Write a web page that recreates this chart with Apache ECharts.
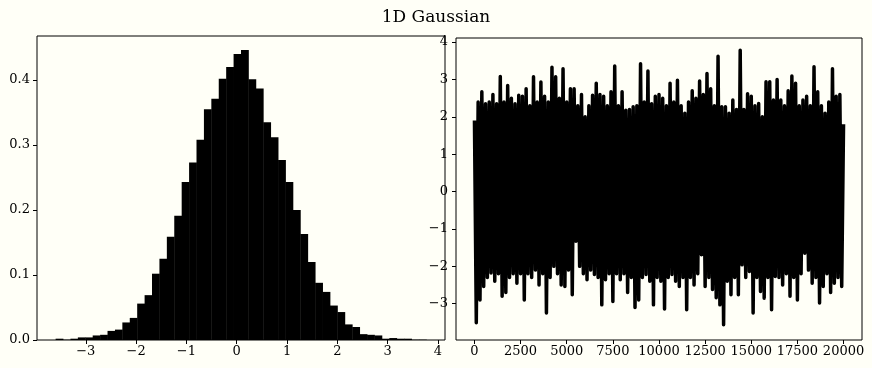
<!DOCTYPE html>
<html>
<head>
<meta charset="utf-8">
<title>1D Gaussian</title>
<script src="https://cdn.jsdelivr.net/npm/echarts@6/dist/echarts.min.js"></script>
<style>
  html, body { margin: 0; padding: 0; background: #fffff7; }
  #chart { width: 872px; height: 368px; }
</style>
</head>
<body>
<div id="chart"></div>
<script>
// histogram (density), 50 bins
const binStart = -3.60;
const binWidth = 0.1474;
const density = [
  0.002, 0.0005, 0.002, 0.004, 0.004, 0.007, 0.008, 0.014, 0.016, 0.027,
  0.034, 0.056, 0.069, 0.102, 0.125, 0.159, 0.191, 0.243, 0.273, 0.308,
  0.355, 0.371, 0.402, 0.420, 0.440, 0.446, 0.401, 0.387, 0.335, 0.312,
  0.277, 0.243, 0.200, 0.163, 0.120, 0.088, 0.074, 0.053, 0.043, 0.024,
  0.020, 0.009, 0.008, 0.007, 0.002, 0.003, 0.002, 0.002, 0.0005, 0.0005
];
const histXTicks = [-3, -2, -1, 0, 1, 2, 3, 4];
const histYTicks = [0, 0.1, 0.2, 0.3, 0.4];

// trace: upper peaks at 0,200,...,20000 and lower peaks at 100,300,...,19900
const traceStep = 200;
const tracePeaks = [
  1.9, 2.4, 2.67, 2.35, 2.4, 2.6, 2.35, 3.08, 2.4, 2.84,
  2.5, 2.35, 2.58, 2.55, 2.75, 2.3, 3.07, 2.4, 2.93, 2.55,
  2.4, 3.33, 3.07, 2.5, 3.29, 2.4, 2.75, 2.75, 2.3, 2.6,
  2.0, 2.3, 2.58, 2.9, 2.6, 2.55, 2.3, 2.67, 3.36, 2.3,
  2.67, 2.18, 2.2, 2.27, 2.3, 3.42, 2.4, 3.23, 2.35, 2.55,
  2.6, 2.5, 2.3, 2.9, 2.4, 2.98, 2.3, 2.1, 2.4, 2.7,
  2.5, 2.96, 2.6, 3.16, 2.75, 2.3, 3.62, 2.27, 2.27, 2.1,
  2.45, 2.2, 3.78, 2.2, 2.62, 2.55, 2.3, 2.36, 2.0, 2.94,
  2.94, 2.45, 3.0, 2.45, 2.3, 2.7, 3.09, 2.9, 2.3, 2.45,
  2.55, 2.3, 3.34, 2.67, 2.3, 2.1, 2.4, 3.29, 2.55, 2.6,
  1.8
];
const traceTroughs = [
  -3.51, -2.9, -2.54, -2.3, -2.18, -2.4, -2.2, -2.8, -2.7, -2.3,
  -2.2, -2.45, -2.2, -2.9, -2.2, -2.3, -2.1, -2.5, -2.2, -3.25,
  -2.3, -2.0, -2.2, -2.5, -2.54, -2.1, -2.76, -1.33, -2.0, -2.2,
  -2.36, -2.1, -2.22, -2.3, -3.03, -2.36, -2.2, -2.94, -2.2, -2.36,
  -2.2, -2.7, -2.3, -3.1, -2.9, -2.3, -2.22, -2.4, -3.03, -2.3,
  -2.4, -3.14, -2.3, -2.22, -2.4, -2.54, -2.3, -3.16, -2.3, -2.5,
  -2.2, -1.69, -2.54, -2.3, -2.62, -2.84, -3.03, -3.56, -2.4, -2.76,
  -2.3, -2.76, -1.96, -2.3, -2.14, -3.25, -2.3, -2.67, -2.85, -2.3,
  -3.16, -2.27, -2.3, -2.5, -2.2, -2.8, -2.3, -2.9, -2.2, -1.65,
  -2.1, -2.45, -2.3, -2.98, -2.54, -2.2, -2.7, -2.45, -2.3, -2.54
];
const traceXTicks = [0, 2500, 5000, 7500, 10000, 12500, 15000, 17500, 20000];
const traceYTicks = [-3, -2, -1, 0, 1, 2, 3, 4];

const FONT = "'DejaVu Serif', serif";
const minus = (s) => String(s).replace('-', '\u2212');

const histData = density.map((d, i) => [binStart + i * binWidth, binStart + (i + 1) * binWidth, d]);

const traceData = [];
tracePeaks.forEach((v, k) => {
  traceData.push([k * traceStep, v]);
  if (k < traceTroughs.length) traceData.push([k * traceStep + traceStep / 2, traceTroughs[k]]);
});

// 轴的公共样式
const axisStyle = (ticks, fmt, margin) => ({
  axisLine: { show: false, onZero: false },
  splitLine: { show: false },
  axisTick: { show: true, length: 4, customValues: ticks, lineStyle: { color: '#000', width: 1 } },
  axisLabel: {
    customValues: ticks,
    formatter: fmt,
    color: '#000',
    fontFamily: FONT,
    fontSize: 13,
    margin: margin
  }
});

const chart = echarts.init(document.getElementById('chart'));
chart.setOption({
  animation: false,
  backgroundColor: '#fffff7',
  title: {
    text: '1D Gaussian',
    left: 'center',
    top: 4,
    textStyle: { fontFamily: FONT, fontSize: 17, fontWeight: 'normal', color: '#000' }
  },
  grid: [
    { left: 37, top: 36, width: 408, height: 304, show: true, borderColor: '#000', borderWidth: 1, backgroundColor: 'transparent' },
    { left: 456, top: 38, width: 406, height: 302, show: true, borderColor: '#000', borderWidth: 1, backgroundColor: 'transparent' }
  ],
  xAxis: [
    Object.assign({ type: 'value', gridIndex: 0, min: -3.97, max: 4.14, position: 'bottom' },
      axisStyle(histXTicks, (v) => minus(v), 5)),
    Object.assign({ type: 'value', gridIndex: 1, min: -1000, max: 21000, position: 'bottom' },
      axisStyle(traceXTicks, (v) => String(v), 5))
  ],
  yAxis: [
    Object.assign({ type: 'value', gridIndex: 0, min: 0, max: 0.4677, position: 'left' },
      axisStyle(histYTicks, (v) => v.toFixed(1), 7)),
    Object.assign({ type: 'value', gridIndex: 1, min: -3.97, max: 4.11, position: 'left' },
      axisStyle(traceYTicks, (v) => minus(v), 8))
  ],
  series: [
    {
      type: 'custom',
      xAxisIndex: 0,
      yAxisIndex: 0,
      data: histData,
      encode: { x: [0, 1], y: 2 },
      renderItem: (params, api) => {
        const p0 = api.coord([api.value(0), api.value(2)]);
        const p1 = api.coord([api.value(1), 0]);
        return {
          type: 'rect',
          shape: { x: p0[0], y: p0[1], width: p1[0] - p0[0] + 0.4, height: p1[1] - p0[1] },
          style: { fill: '#000' }
        };
      }
    },
    {
      type: 'line',
      xAxisIndex: 1,
      yAxisIndex: 1,
      data: traceData,
      showSymbol: false,
      sampling: null,
      lineStyle: { color: '#000', width: 3.5, join: 'round', cap: 'butt' }
    }
  ]
});
</script>
</body>
</html>
